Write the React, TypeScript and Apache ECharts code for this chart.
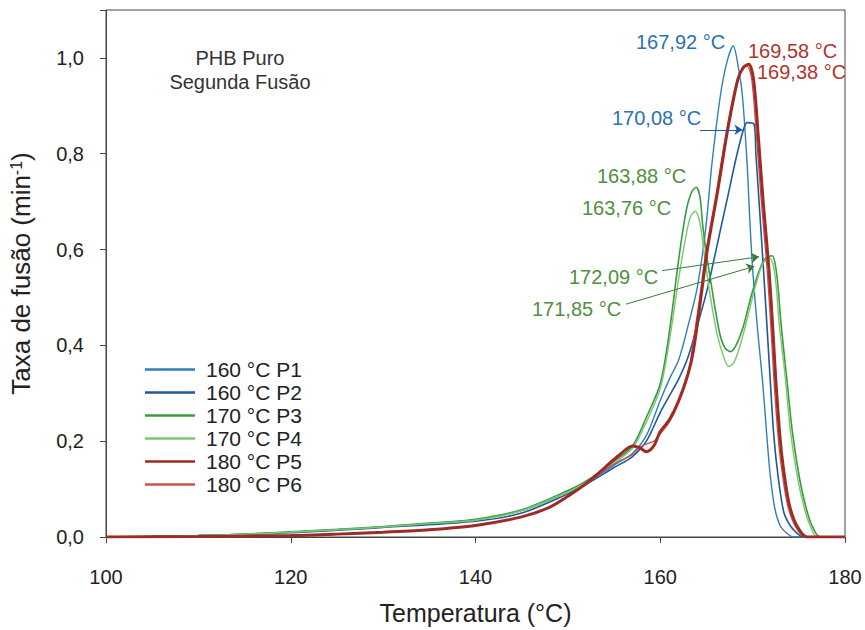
import React, { useEffect, useRef } from "react";
import * as echarts from "echarts";

const seriesNames = ["160 °C P1", "160 °C P2", "170 °C P3", "170 °C P4", "180 °C P5", "180 °C P6"];

const p1T = [100,105,110,115,120,125,130,135,140,145,150,152,155,157,158.5,160,161,162,163,164,164.9,165.6,166.5,167.2,167.9,168.5,168.9,169.4,169.7,170,170.5,171.1,171.5,171.9,172.4,173,173.7,174.4,180];
const p1Y = [0,0.001,0.003,0.006,0.01,0.015,0.021,0.028,0.036,0.055,0.094,0.113,0.15,0.175,0.212,0.285,0.33,0.37,0.44,0.52,0.64,0.78,0.92,0.99,1.025,0.975,0.92,0.78,0.66,0.56,0.44,0.32,0.22,0.13,0.06,0.023,0.008,0,0];

const p2T = [100,110,120,130,140,145,150,152,155,157,158.5,160,161,162,163,164,165,165.6,166.5,167.3,168.2,169,169.4,170.15,170.35,170.8,171.3,171.9,172.3,172.8,173.4,174.1,174.8,175.5,180];
const p2Y = [0,0.003,0.009,0.02,0.033,0.05,0.09,0.11,0.145,0.168,0.2,0.26,0.295,0.33,0.375,0.44,0.51,0.56,0.64,0.71,0.79,0.85,0.865,0.862,0.8,0.67,0.52,0.33,0.21,0.12,0.05,0.023,0.008,0,0];

const p3T = [100,105,110,115,120,125,130,135,140,145,150,152,155,157,158.5,160,161,162,162.8,163.4,163.9,164.3,164.6,165,165.5,166,166.5,167,167.6,168.2,169,169.8,170.6,171.3,172.1,172.6,173.1,173.7,174.3,175.1,175.8,176.4,177.3,180];
const p3Y = [0,0.001,0.003,0.006,0.011,0.016,0.022,0.029,0.037,0.057,0.097,0.117,0.158,0.19,0.25,0.32,0.43,0.58,0.68,0.72,0.73,0.71,0.65,0.59,0.53,0.47,0.42,0.395,0.387,0.4,0.44,0.5,0.55,0.58,0.587,0.55,0.44,0.33,0.22,0.12,0.06,0.025,0,0];

const p4T = [100,105,110,115,120,125,130,135,140,145,150,152,155,157,158.5,160,161,162,162.8,163.3,163.8,164.3,164.7,165.2,165.7,166.2,166.8,167.4,168,168.8,169.6,170.4,171.1,171.85,172.4,172.9,173.5,174.1,174.9,175.6,176.2,177,180];
const p4Y = [0,0.001,0.003,0.006,0.01,0.015,0.021,0.028,0.035,0.055,0.094,0.114,0.155,0.185,0.24,0.31,0.41,0.54,0.63,0.67,0.68,0.655,0.6,0.53,0.47,0.42,0.38,0.356,0.365,0.41,0.47,0.53,0.57,0.582,0.55,0.44,0.34,0.22,0.12,0.06,0.025,0,0];

const p5T = [100,110,120,125,130,135,140,145,148,150,152,154,155.5,157,157.8,158.5,159.3,160,161,162,163,163.6,164.4,165.1,166.2,167.3,168.4,169,169.58,170.1,170.6,171.1,171.5,171.8,172.2,172.5,173,173.5,174,174.8,175.9,180];
const p5Y = [0,0.001,0.003,0.006,0.01,0.015,0.024,0.042,0.062,0.085,0.112,0.145,0.17,0.19,0.186,0.178,0.19,0.22,0.245,0.285,0.34,0.39,0.5,0.6,0.72,0.85,0.955,0.98,0.987,0.955,0.84,0.71,0.62,0.55,0.43,0.33,0.2,0.12,0.065,0.023,0,0];

const p6T = [100,110,120,125,130,135,140,145,148,150,152,154,155.5,157,158,159.3,160,161,162,163,163.4,164.2,164.9,166,167.1,168.2,168.8,169.38,169.9,170.4,170.9,171.3,171.6,172,172.3,172.8,173.3,173.8,174.6,175.7,180];
const p6Y = [0,0.001,0.003,0.006,0.01,0.015,0.024,0.042,0.062,0.085,0.11,0.14,0.158,0.172,0.19,0.2,0.215,0.24,0.28,0.335,0.385,0.49,0.59,0.71,0.84,0.945,0.975,0.983,0.955,0.84,0.71,0.62,0.55,0.43,0.33,0.2,0.12,0.065,0.023,0,0];

const xTicks = [100, 120, 140, 160, 180];
const yTicks = [0, 0.2, 0.4, 0.6, 0.8, 1.0];

const zip = (t: number[], y: number[]) => t.map((v, i) => [v, y[i]]);

const FONT = '"Liberation Sans", Arial, sans-serif';
const BLUE_TXT = "#2a72b0";
const RED_TXT = "#b3332e";
const GREEN_TXT = "#4f8f3f";

export default function App() {
  const ref = useRef<HTMLDivElement>(null);
  useEffect(() => {
    document.body.style.margin = "0";
    if (!ref.current) return;
    const chart = echarts.init(ref.current, null, { renderer: "svg" });
    const colors = ["#2f7fb8", "#1c5a9e", "#3b9a3e", "#7cc66f", "#9e2b25", "#c8524c"];
    const widths = [1.4, 1.6, 1.6, 1.4, 3, 1.3];
    const data = [zip(p1T, p1Y), zip(p2T, p2Y), zip(p3T, p3Y), zip(p4T, p4Y), zip(p5T, p5Y), zip(p6T, p6Y)];
    const arrow = (from: number[], to: number[], color: string) => ({
      silent: true,
      symbol: ["none", "arrow"],
      symbolSize: 8,
      label: { show: false },
      lineStyle: { color, width: 1, type: "solid" },
      emphasis: { disabled: true },
      data: [[{ coord: from }, { coord: to }]],
    });
    const series: any[] = seriesNames.map((name, i) => ({
      name,
      type: "line",
      data: data[i],
      showSymbol: false,
      symbol: "none",
      smooth: 0.3,
      lineStyle: { color: colors[i], width: widths[i] },
      itemStyle: { color: colors[i] },
      z: i === 4 ? 3 : 2,
    }));
    series[1].markLine = arrow([164.3, 0.85], [168.9, 0.85], "#1c5a9e");
    series[2].markLine = arrow([160.2, 0.556], [170.7, 0.585], "#3b7a3e");
    series[3].markLine = arrow([156.3, 0.486], [170.2, 0.565], "#3b7a3e");

    const txt = (text: string, x: number, y: number, fill: string, size = 19, align = "left") => ({
      type: "text",
      x,
      y,
      silent: true,
      style: { text, fill, fontSize: size, fontFamily: FONT, align, verticalAlign: "middle" },
    });

    const fmt = (v: number) => {
      const ok = yTicks.some((t) => Math.abs(t - v) < 1e-6);
      return ok ? v.toFixed(1).replace(".", ",") : "";
    };

    chart.setOption({
      animation: false,
      backgroundColor: "#ffffff",
      grid: { left: 104, right: 20, top: 10, bottom: 91, show: true, borderColor: "#444", borderWidth: 1 },
      xAxis: {
        type: "value",
        min: 100,
        max: 180,
        interval: 20,
        name: "Temperatura (°C)",
        nameLocation: "middle",
        nameGap: 63,
        nameTextStyle: { fontSize: 25, fontFamily: FONT, color: "#222" },
        axisLine: { lineStyle: { color: "#444", width: 1 } },
        axisTick: { show: true, length: 6, lineStyle: { color: "#444" } },
        axisLabel: {
          fontSize: 20,
          fontFamily: FONT,
          color: "#222",
          margin: 30,
          formatter: (v: number) => (xTicks.includes(v) ? String(v) : ""),
        },
        splitLine: { show: false },
      },
      yAxis: {
        type: "value",
        min: 0,
        max: 1.1,
        interval: 0.2,
        name: "Taxa de fusão (min{sup|-1})",
        nameLocation: "middle",
        nameGap: 72,
        nameTextStyle: {
          fontSize: 26,
          fontFamily: FONT,
          color: "#222",
          rich: { sup: { fontSize: 16, fontFamily: FONT, color: "#222", verticalAlign: "top", padding: [0, 0, 10, 0] } },
        },
        axisLine: { show: true, lineStyle: { color: "#444", width: 1 } },
        axisTick: { show: true, length: 6, lineStyle: { color: "#444" } },
        axisLabel: { fontSize: 20, fontFamily: FONT, color: "#222", margin: 22, formatter: fmt },
        splitLine: { show: false },
      },
      legend: {
        orient: "vertical",
        left: 140,
        top: 354,
        icon: "rect",
        itemWidth: 50,
        itemHeight: 2.5,
        itemGap: 2,
        textStyle: { fontSize: 21, fontFamily: FONT, color: "#222", lineHeight: 21, padding: [0, 0, 0, 6] },
        data: seriesNames,
      },
      graphic: [
        txt("PHB Puro", 240, 58, "#333", 20, "center"),
        txt("Segunda Fusão", 240, 82, "#333", 20, "center"),
        txt("167,92 °C", 636, 42, BLUE_TXT, 20),
        txt("169,58 °C", 748, 51, RED_TXT, 20),
        txt("169,38 °C", 757, 72, RED_TXT, 20),
        txt("170,08 °C", 612, 118, BLUE_TXT, 20),
        txt("163,88 °C", 597, 176, GREEN_TXT, 20),
        txt("163,76 °C", 582, 208, GREEN_TXT, 20),
        txt("172,09 °C", 569, 277, GREEN_TXT, 20),
        txt("171,85 °C", 532, 309, GREEN_TXT, 20),
      ],
      series,
    });
    return () => chart.dispose();
  }, []);
  return <div ref={ref} style={{ width: 865, height: 630 }} />;
}
